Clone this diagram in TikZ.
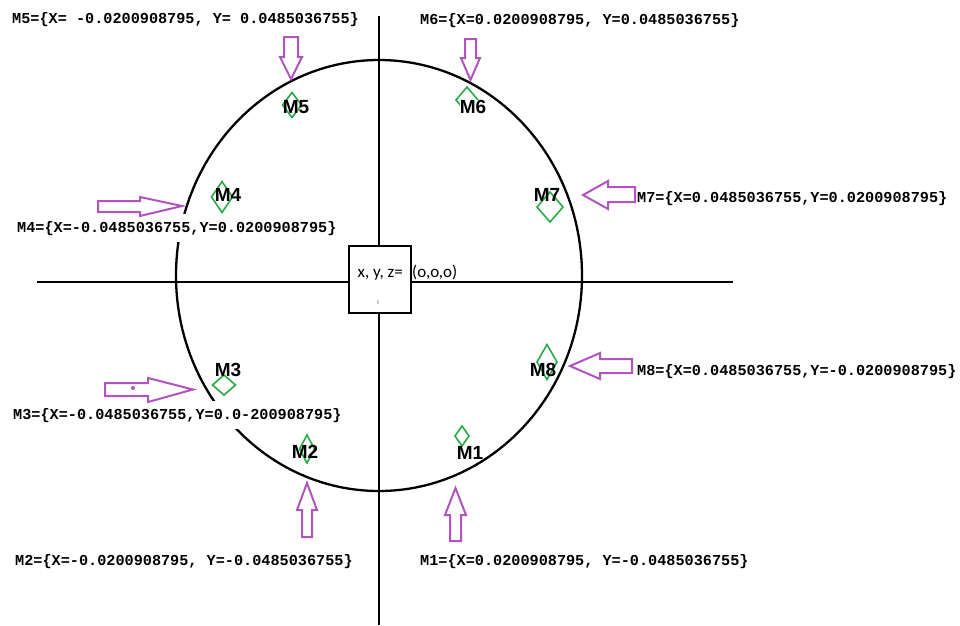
\documentclass[tikz,border=0pt]{standalone}
\usepackage{fontspec}
\newfontfamily\monofont{Liberation Mono}
\newfontfamily\arialfont{Liberation Sans}
\newfontfamily\califont{Carlito}
\definecolor{arrowpurple}{RGB}{176,84,190}
\definecolor{markgreen}{RGB}{40,170,70}
\tikzset{
  coordlabel/.style={anchor=base west, inner sep=0pt, font=\monofont\bfseries\fontsize{15.2}{18}\selectfont},
  cutlabel/.style={coordlabel, fill=white, inner ysep=7pt},
  mlabel/.style={inner sep=0pt, font=\arialfont\bfseries\fontsize{19}{20}\selectfont},
  marker/.style={draw=markgreen, line width=1.6pt, line join=miter},
  blockarrow/.style={draw=arrowpurple, line width=2pt, fill=white, line join=miter},
  axisline/.style={line width=2.3pt},
}
\newcommand\mkdia[4]{\draw[marker] (#1,#2) ++(0,-#4) -- ++(#3,#4) -- ++(-#3,#4) -- ++(-#3,-#4) -- cycle;}
\begin{document}
\begin{tikzpicture}[x=1pt,y=-1pt]
\useasboundingbox (0,0) rectangle (960,625);
% axes
\coordinate (hl) at (37,282);
\coordinate (hr) at (733,282);
\coordinate (vt) at (379,16);
\coordinate (vb) at (379,625);
\draw[axisline] (hl) -- (hr);
\draw[axisline] (vt) -- (vb);
% circle
\coordinate (c) at (379,275.5);
\draw[line width=2.3pt] (c) ellipse [x radius=203pt, y radius=215.5pt];
% origin box
\node[draw, line width=2.3pt, fill=white, minimum width=62pt, minimum height=67pt, inner sep=0pt] (origin) at (380,279.5) {};
\node[anchor=base west, inner sep=0pt, font=\califont\fontsize{17}{18}\selectfont] (xyz) at (357.5,277.5) {x, y, z=};
\node[anchor=base west, inner sep=0pt, font=\califont\fontsize{17}{18}\selectfont] (ooo) at (412,277.5) {(o,o,o)};
\node[inner sep=0pt, font=\califont\fontsize{6}{6}\selectfont, text=black!75] (tick) at (378,302) {l};
% markers
\mkdia{292}{105}{9.5}{12.5}
\mkdia{467}{100}{11}{13}
\mkdia{222}{197}{10.5}{15.5}
\mkdia{550}{207}{13}{15}
\mkdia{547}{362}{10}{17.5}
\mkdia{224}{385}{11.5}{10}
\mkdia{307}{449}{7.5}{14}
\mkdia{462}{436}{7}{10}
% marker labels
\node[mlabel] (m5) at (296,107) {M5};
\node[mlabel, fill=white] (m6) at (473,107) {M6};
\node[mlabel] (m4) at (228,195) {M4};
\node[mlabel] (m7) at (547,195) {M7};
\node[mlabel] (m8) at (543,370) {M8};
\node[mlabel] (m3) at (228,370) {M3};
\node[mlabel] (m2) at (305,452) {M2};
\node[mlabel] (m1) at (470,453) {M1};
% coordinate labels
\node[coordlabel] (l5) at (12,23) {M5=\{X= -0.0200908795, Y= 0.0485036755\}};
\node[coordlabel] (l6) at (420,24) {M6=\{X=0.0200908795, Y=0.0485036755\}};
\node[cutlabel] (l4) at (17,232) {M4=\{X=-0.0485036755,Y=0.0200908795\}};
\node[coordlabel] (l7) at (637,202) {M7=\{X=0.0485036755,Y=0.0200908795\}};
\node[coordlabel] (l8) at (637,375) {M8=\{X=0.0485036755,Y=-0.0200908795\}};
\node[cutlabel] (l3) at (13,419) {M3=\{X=-0.0485036755,Y=0.0-200908795\}};
\node[coordlabel] (l2) at (15,565) {M2=\{X=-0.0200908795, Y=-0.0485036755\}};
\node[coordlabel] (l1) at (420,565) {M1=\{X=0.0200908795, Y=-0.0485036755\}};
% block arrows
\draw[blockarrow] (284,37) -- (298,37) -- (298,57) -- (302,57) -- (291,79) -- (280,57) -- (284,57) -- cycle;
\draw[blockarrow] (465,39) -- (476,39) -- (476,58) -- (480,58) -- (470.5,80) -- (461,58) -- (465,58) -- cycle;
\draw[blockarrow] (98,201) -- (140,201) -- (140,197) -- (182,206) -- (140,216) -- (140,212) -- (98,212) -- cycle;
\draw[blockarrow] (635,187) -- (608,187) -- (608,181) -- (583,195) -- (608,209) -- (608,202) -- (635,202) -- cycle;
\draw[blockarrow] (632,359) -- (600,359) -- (600,353) -- (570,366) -- (600,379) -- (600,373) -- (632,373) -- cycle;
\draw[blockarrow] (105,383) -- (148,383) -- (148,378) -- (193,389.5) -- (148,402) -- (148,396) -- (105,396) -- cycle;
\fill[arrowpurple] (133,388) circle (2pt);
\draw[blockarrow] (302,537) -- (302,510) -- (297,510) -- (307,483) -- (317,510) -- (312,510) -- (312,537) -- cycle;
\draw[blockarrow] (450,541) -- (450,515) -- (445,515) -- (455.5,488) -- (466,515) -- (461,515) -- (461,541) -- cycle;
\end{tikzpicture}
\end{document}
